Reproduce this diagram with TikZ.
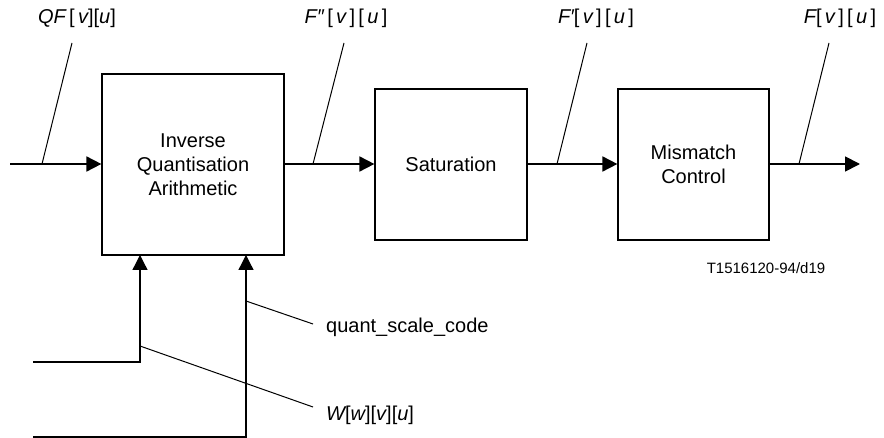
\documentclass[tikz,border=0pt]{standalone}
\usepackage{fontspec}
\setmainfont{Liberation Sans}
\usetikzlibrary{arrows.meta}
\begin{document}
\begin{tikzpicture}[x=1pt,y=-1pt,
  blk/.style={draw, line width=1.2pt, inner sep=0pt, font=\fontsize{20}{24}\selectfont, align=center},
  arr/.style={line width=1.8pt, -{Triangle[length=15pt,width=15pt]}},
  plainline/.style={line width=1.8pt},
  leader/.style={line width=1pt},
  lbl/.style={font=\fontsize{20}{24}\selectfont, inner sep=0pt},
  note/.style={font=\fontsize{15}{18}\selectfont, inner sep=0pt}]
\useasboundingbox (0,0) rectangle (884,438);
% blocks
\node[blk, minimum width=182pt, minimum height=181pt] (b1) at (193,164.5) {Inverse\\Quantisation\\Arithmetic};
\node[blk, minimum width=152pt, minimum height=151pt] (b2) at (451,164.5) {Saturation};
\node[blk, minimum width=151pt, minimum height=151pt] (b3) at (693.5,164.5) {Mismatch\\Control};
% coordinates
\coordinate (in) at (10,164);
\coordinate (out) at (860,164);
\coordinate (w0) at (33,362);
\coordinate (q0) at (33,437);
\coordinate (p1) at (140,255);
\coordinate (p2) at (246,255);
% main arrows
\draw[arr] (in) -- (b1.west |- in);
\draw[arr] (b1.east |- in) -- (b2.west |- in);
\draw[arr] (b2.east |- in) -- (b3.west |- in);
\draw[arr] (b3.east |- in) -- (out);
% bottom inputs
\draw[arr, line width=1.3pt] (w0) -| (p1);
\draw[arr, line width=1.3pt] (q0) -| (p2);
% labels
\node[lbl] (lqf) at (77,18) {\itshape QF\upshape\,[\,\itshape v\upshape][\itshape u\upshape]};
\node[lbl] (lf2) at (346,18) {\itshape F″\upshape\,[\,\itshape v\upshape\,]\,[\,\itshape u\upshape\,]};
\node[lbl] (lf1) at (596,18) {\itshape F′\upshape[\,\itshape v\upshape\,]\,[\,\itshape u\upshape\,]};
\node[lbl] (lf0) at (840,18) {\itshape F\upshape[\,\itshape v\upshape\,]\,[\,\itshape u\upshape\,]};
\node[lbl, anchor=west] (lq) at (326,327) {quant\_scale\_code};
\node[lbl, anchor=west] (lw) at (326,415) {\itshape W\upshape[\itshape w\upshape][\itshape v\upshape][\itshape u\upshape]};
\node[note] (code) at (766,268) {T1516120-94/d19};
% leaders
\coordinate (a1) at (42,164);  \coordinate (a1t) at (72,43);
\coordinate (a2) at (313,164); \coordinate (a2t) at (344,43);
\coordinate (a3) at (557,164); \coordinate (a3t) at (587,43);
\coordinate (a4) at (799,164); \coordinate (a4t) at (829,43);
\draw[leader] (a1) -- (a1t);
\draw[leader] (a2) -- (a2t);
\draw[leader] (a3) -- (a3t);
\draw[leader] (a4) -- (a4t);
\coordinate (a5) at (246,301); \coordinate (a5t) at (313,324);
\coordinate (a6) at (140,346); \coordinate (a6t) at (313,407);
\draw[leader] (a5) -- (a5t);
\draw[leader] (a6) -- (a6t);
\end{tikzpicture}
\end{document}
